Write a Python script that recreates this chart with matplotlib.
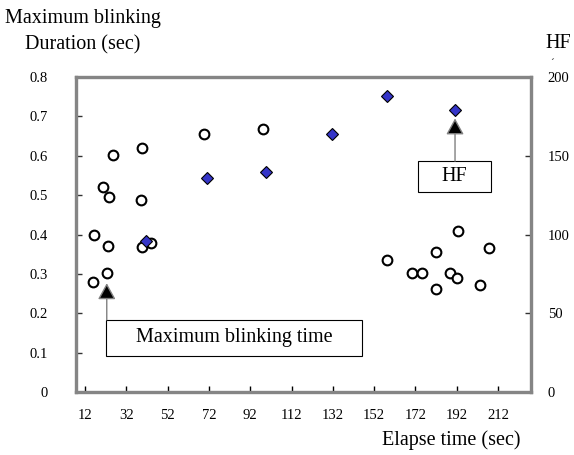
import matplotlib
matplotlib.use("Agg")
import matplotlib.pyplot as plt
from matplotlib.patches import Rectangle

plt.rcParams["font.family"] = ["Liberation Serif", "DejaVu Serif"]

# Maximum blinking duration (sec) vs elapsed time (sec)
blink_time = [16.0, 16.5, 20.9, 22.5, 23.0, 23.8, 25.7, 39.3, 39.4, 39.5, 44.0,
              69.6, 98.0, 158.4, 170.5, 175.0, 182.0, 182.0, 188.8, 192.3,
              192.8, 203.3, 207.8]
blink_duration = [0.280, 0.399, 0.520, 0.301, 0.371, 0.494, 0.603, 0.487,
                  0.620, 0.367, 0.379, 0.654, 0.668, 0.335, 0.301, 0.301,
                  0.356, 0.261, 0.301, 0.289, 0.409, 0.272, 0.365]

# HF vs elapsed time (sec)
hf_time = [41.5, 70.9, 99.5, 131.7, 158.4, 191.2]
hf_value = [96, 136, 140, 164, 188, 179]

x_ticks = [12, 32, 52, 72, 92, 112, 132, 152, 172, 192, 212]
left_ticks = [0, 0.1, 0.2, 0.3, 0.4, 0.5, 0.6, 0.7, 0.8]
left_labels = ["0", "0.1", "0.2", "0.3", "0.4", "0.5", "0.6", "0.7", "0.8"]
right_ticks = [0, 50, 100, 150, 200]

W, H = 574, 455
fig = plt.figure(figsize=(W / 100, H / 100), dpi=100)
ax = fig.add_axes([76 / W, (H - 392) / H, (531 - 76) / W, (392 - 77) / H])
ax2 = ax.twinx()

frame_gray = "#858585"
for a in (ax, ax2):
    for s in a.spines.values():
        s.set_color(frame_gray)
        s.set_linewidth(2.3)

ax.set_xlim(7.6, 228)
ax.set_ylim(0, 0.8)
ax2.set_ylim(0, 200)

ax.set_xticks(x_ticks)
ax.set_xticklabels([str(t) for t in x_ticks])
ax.set_yticks(left_ticks)
ax.set_yticklabels(left_labels)
ax2.set_yticks(right_ticks)
ax2.set_yticklabels([str(t) for t in right_ticks])

ax.tick_params(axis="x", direction="in", length=4, width=1, color="black",
               labelsize=10.5, pad=12)
ax.tick_params(axis="y", direction="in", length=4, width=1, color="#333333",
               labelsize=10.5, pad=20)
ax2.tick_params(axis="y", direction="in", length=4, width=1, color="#333333",
                labelsize=10.5, pad=12)
for lbl in ax2.get_yticklabels():
    lbl.set_horizontalalignment("left")

# Data marks
ax.plot(blink_time, blink_duration, linestyle="none", marker="o",
        markersize=7, markerfacecolor="white", markeredgecolor="black",
        markeredgewidth=1.5, zorder=3)
ax2.plot(hf_time, hf_value, linestyle="none", marker="D", markersize=6.5,
         markerfacecolor="#3535c8", markeredgecolor="black",
         markeredgewidth=0.8, zorder=3)

# Callout boxes
ax.add_patch(Rectangle((0.066, 0.114), 0.5615, 0.115, transform=ax.transAxes,
                       facecolor="white", edgecolor="black", linewidth=0.8,
                       zorder=4))
ax.text(0.347, 0.1715, "Maximum blinking time", transform=ax.transAxes,
        ha="center", va="center", fontsize=14.5, zorder=5)
ax.add_patch(Rectangle((0.752, 0.635), 0.160, 0.098, transform=ax.transAxes,
                       facecolor="white", edgecolor="black", linewidth=0.8,
                       zorder=4))
ax.text(0.832, 0.684, "HF", transform=ax.transAxes, ha="center",
        va="center", fontsize=14.5, zorder=5)

arrow_style = dict(arrowstyle="-|>,head_length=1.0,head_width=0.55",
                   mutation_scale=10, facecolor="black", edgecolor="#808080",
                   linewidth=1, shrinkA=0)
ax.annotate("", xy=(blink_time[3], blink_duration[3]),
            xytext=(blink_time[3], 0.229),
            textcoords=ax.get_xaxis_transform(),
            arrowprops=dict(arrow_style, shrinkB=7), zorder=4)
ax2.annotate("", xy=(hf_time[5], hf_value[5]),
             xytext=(hf_time[5], 0.733),
             textcoords=ax2.get_xaxis_transform(),
             arrowprops=dict(arrow_style, shrinkB=6), zorder=4)

# Axis titles
fig.text(5 / W, 1 - 18 / H, "Maximum blinking", ha="left", va="center",
         fontsize=14.5)
fig.text(25 / W, 1 - 45 / H, "Duration (sec)", ha="left", va="center",
         fontsize=14.5)
fig.text(545 / W, 1 - 44 / H, "HF", ha="left", va="center", fontsize=14.5)
fig.text(550 / W, 1 - 63 / H, "\u00b4", ha="left", va="center", fontsize=8)
fig.text(520 / W, 1 - 440 / H, "Elapse time (sec)", ha="right",
         va="center", fontsize=14.5)

fig.savefig("out.png", dpi=100)
